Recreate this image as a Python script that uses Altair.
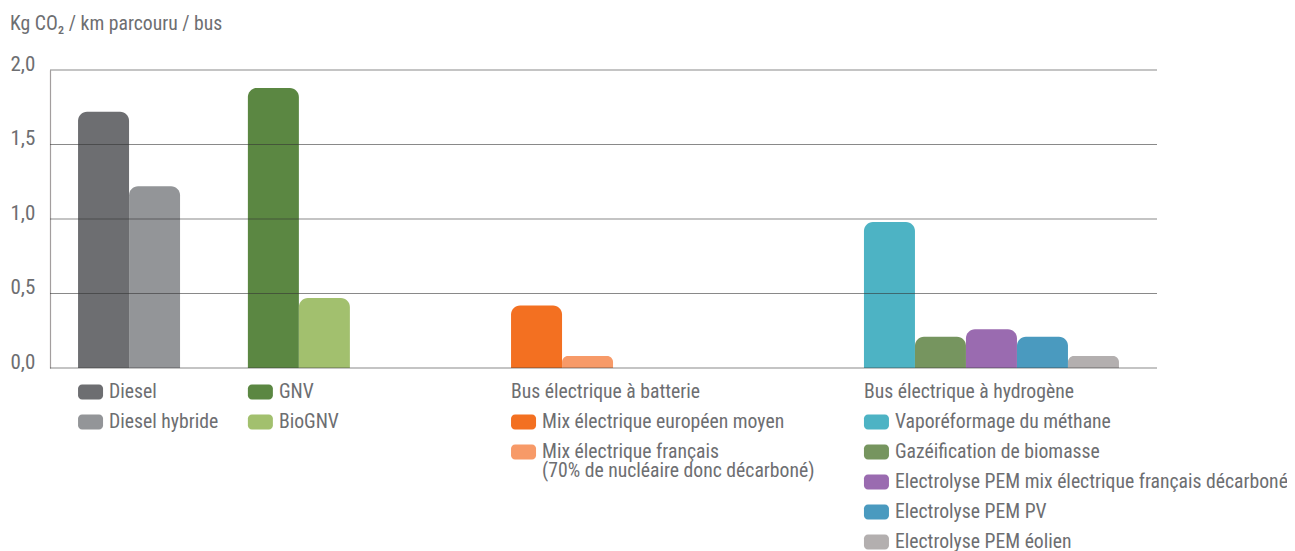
import altair as alt
import pandas as pd

# ---------------- data ----------------
categories = [
    "Diesel", "Diesel hybride", "GNV", "BioGNV",
    "Mix électrique européen moyen", "Mix électrique français",
    "Vaporéformage du méthane", "Gazéification de biomasse",
    "Electrolyse PEM mix électrique français décarboné",
    "Electrolyse PEM PV", "Electrolyse PEM éolien",
]
values = [1.72, 1.22, 1.88, 0.47, 0.42, 0.08, 0.98, 0.21, 0.26, 0.21, 0.08]
groups = [0, 0, 1, 1, 2, 2, 3, 3, 3, 3, 3]
colors = [
    "#6d6e71", "#939598", "#5b8742", "#a2c06e",
    "#f37021", "#f79a68",
    "#4db3c4", "#76955f", "#9a6bb0", "#4a9abf", "#b3afaf",
]
legend_rows = [0, 1, 0, 1, 1, 2, 1, 2, 3, 4, 5]
group_titles = ["", "", "Bus électrique à batterie", "Bus électrique à hydrogène"]
note_text = "(70% de nucléaire donc décarboné)"
y_ticks = [0.0, 0.5, 1.0, 1.5, 2.0]
y_title = "Kg CO₂ / km parcouru / bus"

# ---------------- layout ----------------
W, H = 1107, 298
BAR_PX = 51.0
gap_units = [0.55, 1.33, 3.16, 4.92]  # empty space before each group, in bar widths
total_units = W / BAR_PX
FONT = "Liberation Sans Narrow, Roboto Condensed, Arial Narrow, Roboto, sans-serif"
TXT = "#6d6e71"
FS = 19.7
ROW0, ROW_STEP = 24, 30

# position of each bar in bar-width units
group_start = {}
pos = 0.0
prev_group = None
starts = []
for g in groups:
    if g != prev_group:
        pos += gap_units[g]
        group_start[g] = pos
        prev_group = g
    starts.append(pos)
    pos += 1.0

bars_df = pd.DataFrame({
    "cat": categories, "value": values,
    "x0": starts, "x1": [s + 1.0 for s in starts],
})

sw_units = 25.0 / BAR_PX
leg_df = pd.DataFrame({
    "cat": categories,
    "x0": [group_start[g] for g in groups],
    "x1": [group_start[g] + sw_units for g in groups],
    "yc": [H + ROW0 + ROW_STEP * r for r in legend_rows],
})
leg_df["ya"] = leg_df["yc"] - 7.5
leg_df["yb"] = leg_df["yc"] + 7.5

text_rows = [(c, group_start[g], H + ROW0 + ROW_STEP * r, 1)
             for c, g, r in zip(categories, groups, legend_rows)]
for g, t in enumerate(group_titles):
    if t:
        text_rows.append((t, group_start[g], H + ROW0, 0))
text_rows.append((note_text, group_start[2], H + ROW0 + ROW_STEP * 2 + 18.5, 1))
txt_df = pd.DataFrame(text_rows, columns=["label", "x", "yc", "off"])

xscale = alt.Scale(domain=[0, total_units], nice=False, zero=False)
cscale = alt.Scale(domain=categories, range=colors)

bars = alt.Chart(bars_df).mark_rect(
    cornerRadiusTopLeft=9, cornerRadiusTopRight=9
).encode(
    x=alt.X("x0:Q", scale=xscale, axis=None),
    x2="x1:Q",
    y=alt.Y("value:Q", scale=alt.Scale(domain=[0, 2], nice=False),
            axis=alt.Axis(values=y_ticks, grid=False, ticks=False, tickSize=0,
                          domain=True, domainColor="#a39e9e", domainWidth=1.2,
                          labelAlign="left", labelPadding=40,
                          labelBaseline="alphabetic", labelFontSize=21,
                          labelColor=TXT, labelFont=FONT, title=None,
                          labelExpr="replace(format(datum.value, '.1f'), '.', ',')")),
    y2=alt.datum(0),
    color=alt.Color("cat:N", scale=cscale, legend=None),
)

grid = alt.Chart(pd.DataFrame({"g": y_ticks})).mark_rule(
    color="#333333", opacity=0.58, strokeWidth=1.2
).encode(
    y=alt.Y("g:Q", scale=alt.Scale(domain=[0, 2], nice=False), axis=None),
    x=alt.value(0), x2=alt.value(W),
)

swatches = alt.Chart(leg_df).mark_rect(cornerRadius=4).encode(
    x=alt.X("x0:Q", scale=xscale, axis=None),
    x2="x1:Q",
    y=alt.Y("ya:Q", scale=None, axis=None),
    y2="yb:Q",
    color=alt.Color("cat:N", scale=cscale, legend=None),
)

texts_item = alt.Chart(txt_df).transform_filter("datum.off > 0").mark_text(
    align="left", baseline="middle", dx=31, font=FONT, fontSize=FS, color=TXT
).encode(
    x=alt.X("x:Q", scale=xscale, axis=None),
    y=alt.Y("yc:Q", scale=None, axis=None),
    text="label:N",
)
texts_title = alt.Chart(txt_df).transform_filter("datum.off == 0").mark_text(
    align="left", baseline="middle", font=FONT, fontSize=FS, color=TXT
).encode(
    x=alt.X("x:Q", scale=xscale, axis=None),
    y=alt.Y("yc:Q", scale=None, axis=None),
    text="label:N",
)

title_mark = alt.Chart(pd.DataFrame({"t": [y_title]})).mark_text(
    align="left", baseline="middle", font=FONT, fontSize=FS, color=TXT
).encode(x=alt.value(-40), y=alt.value(-46), text="t:N")

chart = alt.layer(bars, grid, swatches, texts_item, texts_title, title_mark).resolve_scale(
    y="independent"
).properties(
    width=W, height=H,
    autosize=alt.AutoSizeParams(type="none"),
    padding={"left": 42, "top": 62, "right": 130, "bottom": 183},
    background="white",
).configure_view(stroke=None)

chart.save("out.html", embed_options={"renderer": "svg", "actions": False})
